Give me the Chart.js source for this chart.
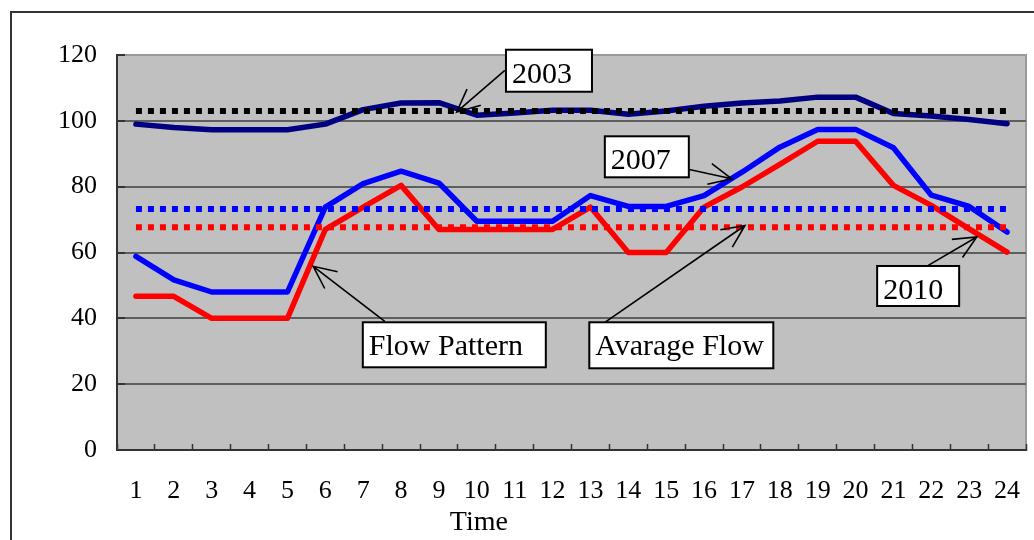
<!DOCTYPE html>
<html>
<head>
<meta charset="utf-8">
<title>Hourly Flow Pattern</title>
<script src="https://cdn.jsdelivr.net/npm/chart.js@4.4.1/dist/chart.umd.min.js"></script>
<style>
  html, body { margin: 0; padding: 0; background: #fff; }
  #wrap { width: 1034px; height: 540px; position: relative; }
</style>
</head>
<body>
<div id="wrap"><canvas id="flowChart" width="1034" height="540"></canvas></div>
<script>
// Hour of day (1..24)
const hours = ['1','2','3','4','5','6','7','8','9','10','11','12',
               '13','14','15','16','17','18','19','20','21','22','23','24'];

// Hourly flow per year
const flow2003 = [99, 98, 97.3, 97.3, 97.3, 99, 103.4, 105.4, 105.5, 101.7, 102.4, 103.2,
                  103.2, 102, 103, 104.4, 105.4, 106, 107.2, 107.2, 102.2, 101.5, 100.4, 99.1];
const flow2007 = [58.8, 51.7, 48, 48, 48, 73.8, 80.9, 84.7, 81.1, 69.5, 69.5, 69.5,
                  77.3, 74, 74, 77.3, 84.4, 92, 97.4, 97.4, 91.8, 77.4, 74, 66.2];
const flow2010 = [46.7, 46.7, 40, 40, 40, 67, 73.8, 80.4, 67, 67, 67, 67,
                  73.8, 60, 60, 73.8, 79.9, 86.8, 93.8, 93.8, 80.4, 74.3, 67.2, 60.1];

// Daily average flow per year
const avg2003 = 103;
const avg2007 = 73.2;
const avg2010 = 67.7;

// Y axis ticks
const yTicks = [0, 20, 40, 60, 80, 100, 120];

const SERIF = "'Liberation Serif', 'Times New Roman', serif";

// Callout boxes: box top-left, arrow tail and arrow tip, all in (hour index, flow) units
const callouts = [
  { text: '2003',         box: [9.77, 121.6], w: 86,  h: 42, tail: [9.74, 115.3], tip: [8.47, 102.7] },
  { text: '2007',         box: [12.38, 95.3], w: 84,  h: 41, tail: [12.55, 90.4], tip: [15.73, 82.4] },
  { text: '2010',         box: [19.57, 55.9], w: 82,  h: 40, tail: [20.92, 56.1], tip: [22.2, 64.7] },
  { text: 'Flow Pattern', box: [5.99, 38.8],  w: 183, h: 45, tail: [6.57, 39.1],  tip: [4.68, 55.8] },
  { text: 'Avarage Flow', box: [11.97, 38.8], w: 184, h: 46, tail: [12.38, 38.8], tip: [16.08, 68.2] }
];

const flat = v => hours.map(() => v);

// Page frame and plot background
const framePlugin = {
  id: 'frame',
  beforeDraw(chart) {
    const { ctx, chartArea: a } = chart;
    ctx.save();
    ctx.fillStyle = '#ffffff';
    ctx.fillRect(0, 0, chart.width, chart.height);
    ctx.strokeStyle = '#333333';
    ctx.lineWidth = 2;
    ctx.strokeRect(11, 12, chart.width + 20, chart.height + 20);
    ctx.fillStyle = '#c0c0c0';
    ctx.fillRect(a.left, a.top, a.right - a.left, a.bottom - a.top);
    ctx.strokeStyle = '#9a9a9a';
    ctx.lineWidth = 2;
    ctx.beginPath();
    ctx.moveTo(a.left, a.top);
    ctx.lineTo(a.right, a.top);
    ctx.lineTo(a.right, a.bottom);
    ctx.stroke();
    ctx.restore();
  }
};

// Axis title and callouts with arrows
const notesPlugin = {
  id: 'notes',
  afterDraw(chart) {
    const { ctx } = chart;
    const xs = chart.scales.x, ys = chart.scales.y;
    const px = p => [xs.getPixelForValue(p[0]), ys.getPixelForValue(p[1])];
    ctx.save();

    ctx.fillStyle = '#000';
    ctx.font = '28px ' + SERIF;
    ctx.textAlign = 'center';
    ctx.textBaseline = 'alphabetic';
    ctx.fillText('Time', xs.getPixelForValue(9) + 2, 530);

    callouts.forEach(c => {
      const [bx, by] = px(c.box);
      const [tx, ty] = px(c.tail);
      const [hx, hy] = px(c.tip);

      ctx.strokeStyle = '#000';
      ctx.lineWidth = 1.6;
      ctx.beginPath();
      ctx.moveTo(tx, ty);
      ctx.lineTo(hx, hy);
      const ang = Math.atan2(ty - hy, tx - hx);
      const len = 25, spread = 25 * Math.PI / 180;
      ctx.moveTo(hx + len * Math.cos(ang + spread), hy + len * Math.sin(ang + spread));
      ctx.lineTo(hx, hy);
      ctx.lineTo(hx + len * Math.cos(ang - spread), hy + len * Math.sin(ang - spread));
      ctx.stroke();

      ctx.fillStyle = '#fff';
      ctx.fillRect(bx, by, c.w, c.h);
      ctx.lineWidth = 2;
      ctx.strokeRect(bx, by, c.w, c.h);

      ctx.fillStyle = '#000';
      ctx.font = '30px ' + SERIF;
      ctx.textAlign = 'left';
      ctx.fillText(c.text, bx + 6, by + 33);
    });
    ctx.restore();
  }
};

const avgStyle = { borderWidth: 6, borderDash: [6, 6], borderCapStyle: 'butt', pointRadius: 0, fill: false };
const lineStyle = { borderWidth: 5.5, borderCapStyle: 'round', borderJoinStyle: 'round', pointRadius: 0, fill: false };

new Chart(document.getElementById('flowChart'), {
  type: 'line',
  data: {
    labels: hours,
    datasets: [
      Object.assign({ label: 'Average 2003', data: flat(avg2003), borderColor: '#000000' }, avgStyle),
      Object.assign({ label: 'Average 2007', data: flat(avg2007), borderColor: '#0000ff' }, avgStyle),
      Object.assign({ label: 'Average 2010', data: flat(avg2010), borderColor: '#ff0000' }, avgStyle),
      Object.assign({ label: '2003', data: flow2003, borderColor: '#000080' }, lineStyle),
      Object.assign({ label: '2007', data: flow2007, borderColor: '#0000ff' }, lineStyle),
      Object.assign({ label: '2010', data: flow2010, borderColor: '#ff0000' }, lineStyle)
    ]
  },
  options: {
    responsive: false,
    animation: false,
    layout: { padding: { left: 0, top: 55, right: 8, bottom: 0 } },
    elements: { line: { tension: 0 }, point: { radius: 0 } },
    plugins: { legend: { display: false }, tooltip: { enabled: false } },
    scales: {
      x: {
        type: 'category',
        offset: true,
        grid: { offset: true, drawOnChartArea: false, drawTicks: true, tickLength: -6,
                tickColor: '#333333', tickWidth: 1.5 },
        border: { color: '#333333', width: 2 },
        ticks: { color: '#000', font: { family: SERIF, size: 26 }, padding: 32,
                 maxRotation: 0, autoSkip: false },
        afterFit(s) { s.height = 90; s.paddingLeft = 0; s.paddingRight = 0; }
      },
      y: {
        min: 0,
        max: 120,
        afterBuildTicks(s) { s.ticks = yTicks.map(v => ({ value: v })); },
        grid: {
          color: c => (c.tick && c.tick.value === 120) ? '#9a9a9a' : '#5e5e5e',
          lineWidth: 2, tickLength: -8, tickColor: '#333333', tickWidth: 2
        },
        border: { color: '#333333', width: 2 },
        ticks: { color: '#000', font: { family: SERIF, size: 26 }, padding: 28 },
        afterFit(s) { s.width = 117; s.paddingTop = 0; s.paddingBottom = 0; }
      }
    }
  },
  plugins: [framePlugin, notesPlugin]
});
</script>
</body>
</html>
